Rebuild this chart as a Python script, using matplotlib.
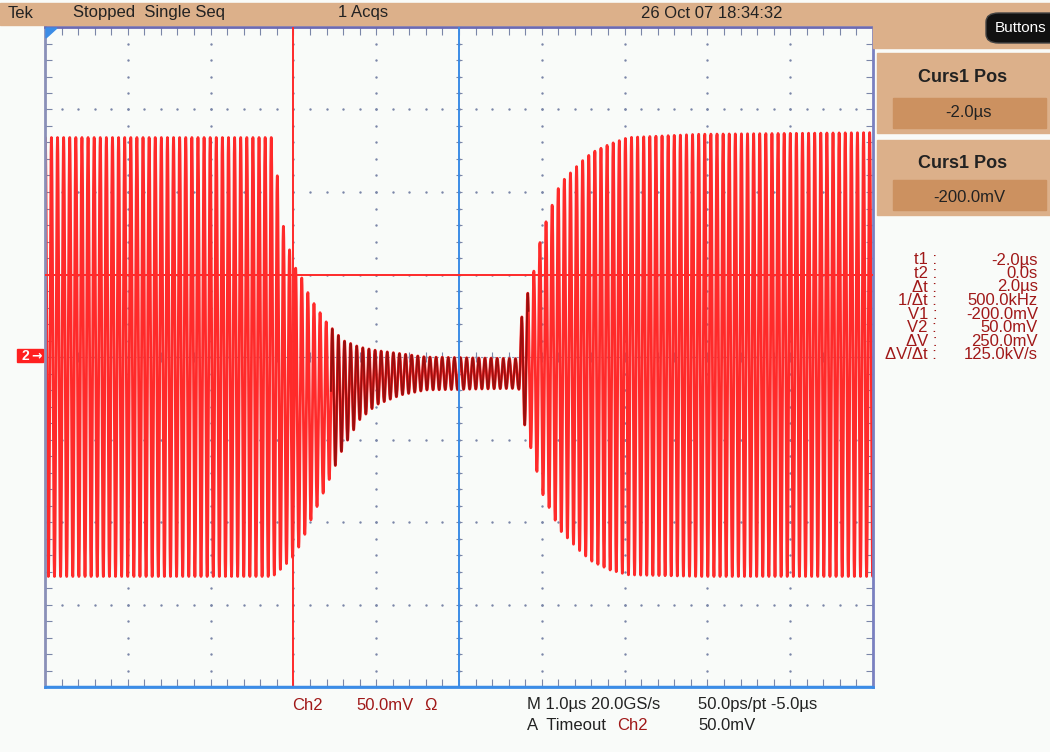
import numpy as np
import matplotlib
matplotlib.use('Agg')
import matplotlib.pyplot as plt
from matplotlib.patches import Rectangle, FancyBboxPatch, Polygon

# ---- data ----
carrier_MHz = 13.56
# envelope knots: time [us], upper edge [mV], lower edge [mV]
env_t   = [-5.0, -2.25, -2.12, -2.0, -1.9, -1.8, -1.6, -1.4, -1.2, -1.0,
           -0.7, -0.4, 0.72, 0.76, 0.92, 1.0, 1.22, 1.47, 1.61, 1.82,
           2.04, 2.9, 5.0]
env_top = [133, 133, 79, 56, 48, 36, 21, 10, 6, 4,
           2, 0, -1, 26, 55, 75, 105, 118, 124, 129,
           133, 135, 136]
env_bot = [-133, -133, -127, -121, -112, -100, -78, -55, -38, -29,
           -23, -20, -19, -35, -65, -82, -105, -118, -124, -129,
           -132, -133, -133]

cursor_t = [-2.0, 0.0]      # us
cursor_v = [-200.0, 50.0]   # mV

readout_labels = ['t1 :', 't2 :', '\u0394t :', '1/\u0394t :', 'V1 :', 'V2 :',
                  '\u0394V :', '\u0394V/\u0394t :']
readout_values = ['-2.0\u00b5s', '0.0s', '2.0\u00b5s', '500.0kHz', '-200.0mV',
                  '50.0mV', '250.0mV', '125.0kV/s']

# ---- style ----
W, H = 1050, 752
tan = '#dcb08a'
tan_dark = '#cc9160'
red = '#ff2a2a'
dred = '#a01818'
blue = '#3c8ce6'
dot_c = '#7a86a8'
bg = '#f9fbf9'
plt.rcParams['font.family'] = ['Liberation Sans Narrow', 'Liberation Sans', 'DejaVu Sans']


def px(x, y):
    return x / W, 1 - y / H


fig = plt.figure(figsize=(W / 100, H / 100), dpi=100, facecolor=bg)

# header bar and right panel
fig.patches.append(Rectangle(px(0, 25), 1, 22 / H, transform=fig.transFigure,
                             color=tan, zorder=0))
fig.patches.append(Rectangle(px(873, 48), 177 / W, 23 / H, transform=fig.transFigure,
                             color=tan, zorder=0))
for y0, y1 in [(53, 133), (140, 215)]:
    fig.patches.append(Rectangle(px(877, y1), 173 / W, (y1 - y0) / H,
                                 transform=fig.transFigure, color=tan, zorder=0))
    fig.patches.append(Rectangle(px(893, y1 - 5), 153 / W, 30 / H,
                                 transform=fig.transFigure, color=tan_dark, zorder=0))
fig.patches.append(FancyBboxPatch(px(986, 43), 80 / W, 30 / H,
                                  boxstyle='round,pad=0,rounding_size=0.012',
                                  transform=fig.transFigure, fc='#111111',
                                  ec='#444444', lw=1, zorder=1))

# main scope axes
ax = fig.add_axes([45 / W, 1 - 687 / H, 828 / W, 660 / H])
ax.set_facecolor(bg)
ax.set_xlim(-5, 5)
ax.set_ylim(-200, 200)
ax.set_xticks([])
ax.set_yticks([])
for side, c in [('left', '#8a90b8'), ('top', '#6a6ab4'), ('right', '#7a80c0'),
                ('bottom', blue)]:
    ax.spines[side].set_color(c)
    ax.spines[side].set_linewidth(2)

# graticule dots
minor_x = np.arange(-5, 5.001, 0.2)
minor_y = np.arange(-200, 200.1, 10)
for gx in range(-5, 6):
    ax.scatter(np.full(minor_y.size, gx), minor_y, s=3, c=dot_c, lw=0, zorder=1)
for gy in range(-200, 201, 50):
    ax.scatter(minor_x, np.full(minor_x.size, gy), s=3, c=dot_c, lw=0, zorder=1)
# center cross ticks
ax.axhline(0, color='#8892b0', lw=0.8, ls=(0, (2, 2)), zorder=1)
ax.vlines(minor_x, -3, 3, color=dot_c, lw=0.8, zorder=1)
ax.hlines(minor_y, -0.04, 0.04, color=dot_c, lw=0.8, zorder=1)
# edge ticks
ax.vlines(minor_x, -200, -195, color=dot_c, lw=0.8, zorder=1)
ax.vlines(minor_x, 195, 200, color=dot_c, lw=0.8, zorder=1)
ax.hlines(minor_y, -5, -4.92, color=dot_c, lw=0.8, zorder=1)
ax.hlines(minor_y, 4.92, 5, color=dot_c, lw=0.8, zorder=1)

# waveform
t = np.linspace(-5, 5, 40001)
top = np.interp(t, env_t, env_top)
bot = np.interp(t, env_t, env_bot)
mid = (top + bot) / 2
half = (top - bot) / 2
v = mid + half * np.sin(2 * np.pi * carrier_MHz * t)
ax.plot(t, v, color=red, lw=2.0, zorder=2)
dark = np.where(half < 45, v, np.nan)
ax.plot(t, dark, color='#8a0a0a', lw=1.4, alpha=0.85, zorder=3)

# cursors
ax.axvline(cursor_t[0], color=red, lw=1.4, zorder=4)
ax.axvline(cursor_t[1], color=blue, lw=1.4, zorder=4)
ax.axhline(cursor_v[1], color=red, lw=1.4, zorder=4)
ax.axhline(cursor_v[0], color=blue, lw=2.5, zorder=4)

# trigger marker and channel marker
fig.patches.append(Polygon([px(46, 28), px(57, 28), px(46, 38)], closed=True,
                           transform=fig.transFigure, color=blue, zorder=5))
fig.patches.append(Rectangle(px(17, 362), 26 / W, 13 / H, transform=fig.transFigure,
                             color='#ff2020', zorder=5))
fig.text(*px(25, 356), '2', color='white', fontsize=10, fontweight='bold',
         ha='center', va='center', zorder=6)
fig.text(*px(37, 356), '\u2192', color='white', fontsize=9, fontweight='bold',
         ha='center', va='center', zorder=6, family='DejaVu Sans')

# header texts
hk = dict(fontsize=12, color='#222222', va='center')
fig.text(*px(8, 13), 'Tek', **hk)
fig.text(*px(73, 13), 'Stopped  Single Seq', **hk)
fig.text(*px(338, 13), '1 Acqs', **hk)
fig.text(*px(641, 13), '26 Oct 07 18:34:32', **hk)
fig.text(*px(995, 28), 'Buttons', color='white', fontsize=11, va='center')

# cursor boxes
for yt, yv, val in [(78, 112, '-2.0\u00b5s'), (163, 197, '-200.0mV')]:
    fig.text(*px(963, yt), 'Curs1 Pos', fontsize=13, fontweight='bold',
             color='#222222', ha='center', va='center')
    fig.text(*px(969, yv), val, fontsize=12, color='#222222', ha='center', va='center')

# readouts
for i, (lab, val) in enumerate(zip(readout_labels, readout_values)):
    y = 260 + i * 13.5
    fig.text(*px(937, y), lab, fontsize=12, color=dred, ha='right', va='center')
    fig.text(*px(1038, y), val, fontsize=12, color=dred, ha='right', va='center')

# bottom status
bk = dict(fontsize=12, va='center')
fig.text(*px(292, 705), 'Ch2', color=dred, **bk)
fig.text(*px(356, 705), '50.0mV', color=dred, **bk)
fig.text(*px(424, 705), '\u03a9', color=dred, **bk)
fig.text(*px(527, 705), 'M 1.0\u00b5s 20.0GS/s', color='#222222', **bk)
fig.text(*px(698, 705), '50.0ps/pt -5.0\u00b5s', color='#222222', **bk)
fig.text(*px(527, 726), 'A  Timeout', color='#222222', **bk)
fig.text(*px(617, 726), 'Ch2', color=dred, **bk)
fig.text(*px(698, 726), '50.0mV', color='#222222', **bk)

fig.savefig('out.png', dpi=100, facecolor=bg)
